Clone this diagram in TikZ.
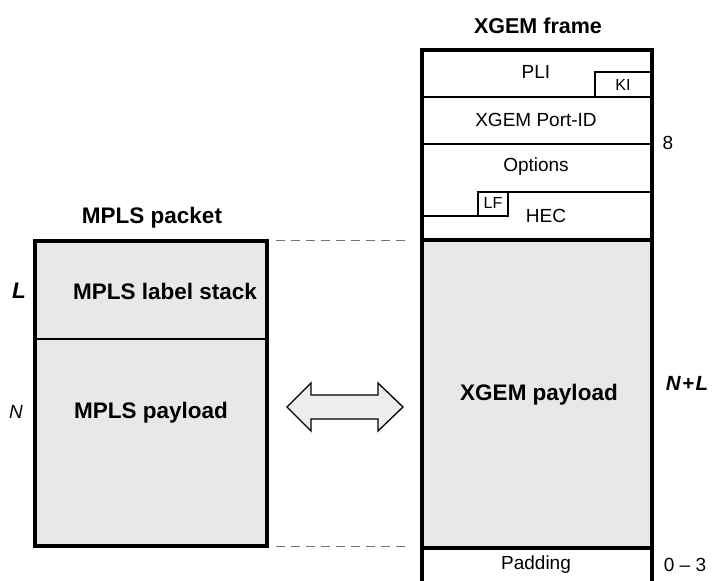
\documentclass[tikz,border=0pt]{standalone}
\usepackage{fontspec}
\setmainfont{Liberation Sans}
\begin{document}
\begin{tikzpicture}[x=1pt,y=-1pt,
  thick line/.style={line width=3.2pt},
  thin line/.style={line width=1.3pt},
  payfill/.style={fill=black!9},
  lbl/.style={inner sep=0pt,font=\fontsize{19}{19}\selectfont},
  blbl/.style={inner sep=0pt,font=\fontsize{22.5}{22.5}\selectfont\bfseries},
  smlbl/.style={inner sep=0pt,font=\fontsize{16}{16}\selectfont},
  guide/.style={black!55,line width=1pt,dash pattern=on 9pt off 6pt}]
\useasboundingbox (0,0) rectangle (713,581);
% ---------- MPLS packet ----------
\fill[payfill] (35,241) rectangle (267,546);
\draw[thin line] (35,339) -- (267,339);
\draw[thick line] (35,241) rectangle (267,546);
\node[blbl] (mtitle) at (152,218) {MPLS packet};
\node[blbl] (mstack) at (165,291) {MPLS label stack};
\node[blbl] (mpay) at (151,413) {MPLS payload};
\node[blbl,font=\fontsize{22.5}{22.5}\selectfont\bfseries\itshape] (lL) at (19,291) {L};
\node[lbl,font=\fontsize{19}{19}\selectfont\itshape] (lN) at (16,412) {N};
% ---------- XGEM frame ----------
\fill[payfill] (422,240) rectangle (652,548);
\draw[thin line] (422,97) -- (652,97);
\draw[thin line] (422,144) -- (652,144);
\draw[thin line] (508,192) -- (652,192);
\draw[thin line] (422,216) -- (478,216);
\draw[thin line] (595,97) |- (652,72);
\draw[thin line] (478,216) rectangle (508,192);
\draw[thick line] (422,581) -- (422,50) -- (652,50) -- (652,581);
\draw[thick line] (422,240) -- (652,240);
\draw[thick line] (422,548) -- (652,548);
\node[blbl,font=\fontsize{21.5}{21.5}\selectfont\bfseries] (xtitle) at (538,26) {XGEM frame};
\node[lbl] (pli) at (536,72) {PLI};
\node[smlbl] (ki) at (623,85) {KI};
\node[lbl] (port) at (536,120) {XGEM Port-ID};
\node[lbl] (opt) at (536,167) {Options};
\node[smlbl] (lf) at (493,203) {LF};
\node[lbl] (hec) at (546,216) {HEC};
\node[blbl] (xpay) at (539,395) {XGEM payload};
\node[lbl] (pad) at (536,565) {Padding};
\node[lbl] (eight) at (668,143) {8};
\node[blbl,font=\fontsize{20.5}{20.5}\selectfont\bfseries\itshape] (nl) at (687,383) {N\kern1.5pt+\kern1.5pt L};
\node[lbl] (zt) at (685,565) {0 -- 3};
% ---------- dashed guides ----------
\coordinate (g1a) at (276,240); \coordinate (g1b) at (410,240);
\coordinate (g2a) at (276,546); \coordinate (g2b) at (410,546);
\draw[guide] (g1a) -- (g1b);
\draw[guide] (g2a) -- (g2b);
% ---------- double arrow ----------
\draw[fill=black!7,line width=1.3pt,line join=miter]
  (287,407) -- (311,383) -- (311,395) -- (378,395) -- (378,383) -- (403,407)
  -- (378,431) -- (378,419) -- (311,419) -- (311,431) -- cycle;
\end{tikzpicture}
\end{document}
